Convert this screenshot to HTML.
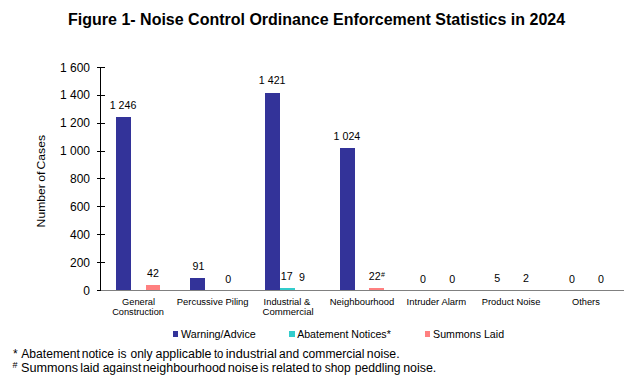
<!DOCTYPE html><html><head><meta charset="utf-8"><style>html,body{margin:0;padding:0;background:#fff;width:640px;height:389px;overflow:hidden}svg{display:block}text{font-family:"Liberation Sans",sans-serif;fill:#000}</style></head><body>
<svg width="640" height="389" viewBox="0 0 640 389">
<rect x="0" y="0" width="640" height="389" fill="#fff"/>
<text x="316.6" y="25" font-size="16" font-weight="bold" text-anchor="middle">Figure 1- Noise Control Ordinance Enforcement Statistics in 2024</text>
<g shape-rendering="crispEdges">
<rect x="100" y="290" width="524" height="1" fill="#808080"/>
<rect x="100" y="67" width="1" height="223" fill="#000"/>
<rect x="97" y="67" width="8" height="1" fill="#000"/>
<rect x="97" y="95" width="8" height="1" fill="#000"/>
<rect x="97" y="123" width="8" height="1" fill="#000"/>
<rect x="97" y="151" width="8" height="1" fill="#000"/>
<rect x="97" y="178" width="8" height="1" fill="#000"/>
<rect x="97" y="206" width="8" height="1" fill="#000"/>
<rect x="97" y="234" width="8" height="1" fill="#000"/>
<rect x="97" y="262" width="8" height="1" fill="#000"/>
<rect x="97" y="290" width="4" height="1" fill="#000"/>
</g>
<text x="90" y="71.5" font-size="12" text-anchor="end">1 600</text>
<text x="90" y="99.4" font-size="12" text-anchor="end">1 400</text>
<text x="90" y="127.2" font-size="12" text-anchor="end">1 200</text>
<text x="90" y="155.1" font-size="12" text-anchor="end">1 000</text>
<text x="90" y="183.0" font-size="12" text-anchor="end">800</text>
<text x="90" y="210.9" font-size="12" text-anchor="end">600</text>
<text x="90" y="238.8" font-size="12" text-anchor="end">400</text>
<text x="90" y="266.6" font-size="12" text-anchor="end">200</text>
<text x="90" y="294.5" font-size="12" text-anchor="end">0</text>
<g shape-rendering="crispEdges">
<rect x="116" y="117" width="15" height="173" fill="#333399"/>
<rect x="146" y="285" width="14" height="5" fill="#FF8080"/>
<rect x="190" y="278" width="15" height="12" fill="#333399"/>
<rect x="265" y="93" width="15" height="197" fill="#333399"/>
<rect x="280" y="288" width="15" height="2" fill="#33CCCC"/>
<rect x="340" y="148" width="15" height="142" fill="#333399"/>
<rect x="369" y="288" width="15" height="2" fill="#FF8080"/>
</g>
<text x="123.0" y="109" font-size="10.67" text-anchor="middle">1 246</text>
<text x="153.0" y="277" font-size="10.67" text-anchor="middle">42</text>
<text x="198.4" y="270" font-size="10.67" text-anchor="middle">91</text>
<text x="228.1" y="283" font-size="10.67" text-anchor="middle">0</text>
<text x="272.2" y="84" font-size="10.67" text-anchor="middle">1 421</text>
<text x="286.7" y="280" font-size="10.67" text-anchor="middle">17</text>
<text x="302.0" y="281.3" font-size="10.67" text-anchor="middle">9</text>
<text x="346.9" y="140" font-size="10.67" text-anchor="middle">1 024</text>
<text x="374.8" y="280" font-size="10.67" text-anchor="middle">22</text><text x="381.0" y="277" font-size="7">#</text>
<text x="423.0" y="283" font-size="10.67" text-anchor="middle">0</text>
<text x="452.2" y="283" font-size="10.67" text-anchor="middle">0</text>
<text x="497.2" y="282" font-size="10.67" text-anchor="middle">5</text>
<text x="526.0" y="282" font-size="10.67" text-anchor="middle">2</text>
<text x="572.0" y="283" font-size="10.67" text-anchor="middle">0</text>
<text x="601.0" y="283" font-size="10.67" text-anchor="middle">0</text>
<text x="122.03" y="305" font-size="9.2" textLength="32.99" lengthAdjust="spacingAndGlyphs">General</text>
<text x="112.23" y="315" font-size="9.2" textLength="51.67" lengthAdjust="spacingAndGlyphs">Construction</text>
<text x="176.73" y="305" font-size="9.2" textLength="71.88" lengthAdjust="spacingAndGlyphs">Percussive Piling</text>
<text x="263.64" y="305" font-size="9.2" textLength="46.50" lengthAdjust="spacingAndGlyphs">Industrial &amp;</text>
<text x="262.51" y="315" font-size="9.2" textLength="51.13" lengthAdjust="spacingAndGlyphs">Commercial</text>
<text x="329.72" y="305" font-size="9.2" textLength="64.63" lengthAdjust="spacingAndGlyphs">Neighbourhood</text>
<text x="406.63" y="305" font-size="9.2" textLength="59.49" lengthAdjust="spacingAndGlyphs">Intruder Alarm</text>
<text x="481.73" y="305" font-size="9.2" textLength="58.68" lengthAdjust="spacingAndGlyphs">Product Noise</text>
<text x="572.06" y="305" font-size="9.2" textLength="27.77" lengthAdjust="spacingAndGlyphs">Others</text>
<text transform="translate(45.3,181.2) rotate(-90)" x="-46.2" y="0" font-size="10.6" textLength="92.4" lengthAdjust="spacingAndGlyphs" word-spacing="-1">Number of Cases</text>
<g shape-rendering="crispEdges">
<rect x="173" y="331" width="5" height="6" fill="#333399"/>
<rect x="289" y="331" width="6" height="6" fill="#33CCCC"/>
<rect x="425" y="331" width="5" height="6" fill="#FF8080"/>
</g>
<text x="181.05" y="337.6" font-size="10.6" textLength="74.72" lengthAdjust="spacingAndGlyphs">Warning/Advice</text>
<text x="297.18" y="337.6" font-size="10.6" textLength="93.59" lengthAdjust="spacingAndGlyphs">Abatement Notices*</text>
<text x="433.12" y="337.6" font-size="10.6" textLength="70.97" lengthAdjust="spacingAndGlyphs">Summons Laid</text>
<text x="13" y="357.6" font-size="12">*</text><text x="21.23" y="357.6" font-size="12" textLength="58.66" lengthAdjust="spacingAndGlyphs">Abatement</text><text x="81.70" y="357.6" font-size="12" textLength="32.24" lengthAdjust="spacingAndGlyphs">notice</text><text x="117.80" y="357.6" font-size="12">is</text><text x="130.50" y="357.6" font-size="12">only</text><text x="155.47" y="357.6" font-size="12" textLength="56.08" lengthAdjust="spacingAndGlyphs">applicable</text><text x="213.93" y="357.6" font-size="12" textLength="9.45" lengthAdjust="spacingAndGlyphs">to</text><text x="225.75" y="357.6" font-size="12" textLength="51.11" lengthAdjust="spacingAndGlyphs">industrial</text><text x="279.09" y="357.6" font-size="12">and</text><text x="302.48" y="357.6" font-size="12" textLength="62.08" lengthAdjust="spacingAndGlyphs">commercial</text><text x="366.89" y="357.6" font-size="12" textLength="32.73" lengthAdjust="spacingAndGlyphs">noise.</text>
<text x="12.5" y="367.6" font-size="9">#</text><text x="21.02" y="371.8" font-size="12" textLength="57.03" lengthAdjust="spacingAndGlyphs">Summons</text><text x="80.17" y="371.8" font-size="12" textLength="19.23" lengthAdjust="spacingAndGlyphs">laid</text><text x="102.69" y="371.8" font-size="12" textLength="38.60" lengthAdjust="spacingAndGlyphs">against</text><text x="142.67" y="371.8" font-size="12" textLength="83.13" lengthAdjust="spacingAndGlyphs">neighbourhood</text><text x="227.75" y="371.8" font-size="12" textLength="30.51" lengthAdjust="spacingAndGlyphs">noise</text><text x="260.10" y="371.8" font-size="12">is</text><text x="271.78" y="371.8" font-size="12" textLength="37.77" lengthAdjust="spacingAndGlyphs">related</text><text x="312.02" y="371.8" font-size="12" textLength="9.72" lengthAdjust="spacingAndGlyphs">to</text><text x="324.67" y="371.8" font-size="12">shop</text><text x="354.72" y="371.8" font-size="12" textLength="45.86" lengthAdjust="spacingAndGlyphs">peddling</text><text x="403.17" y="371.8" font-size="12" textLength="33.16" lengthAdjust="spacingAndGlyphs">noise.</text>
</svg></body></html>
